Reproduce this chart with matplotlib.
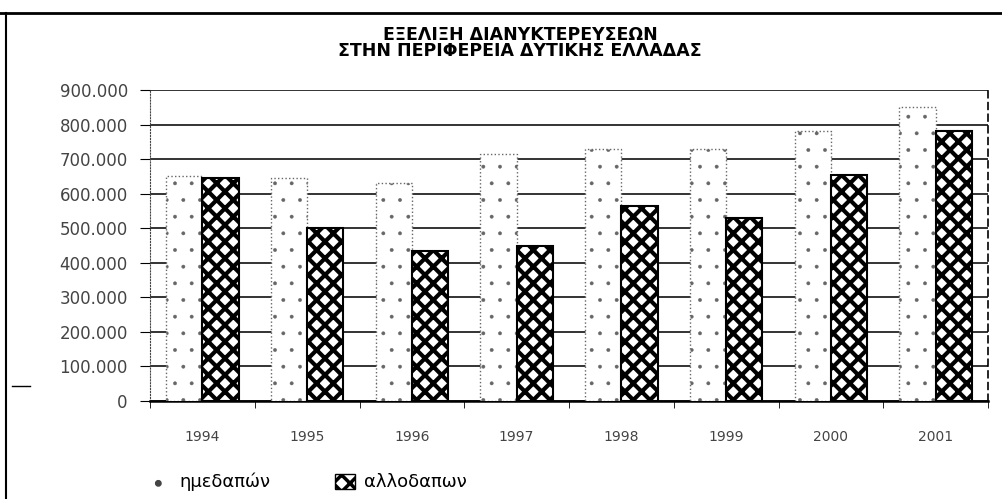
import numpy as np
import matplotlib
matplotlib.use('Agg')
from matplotlib import pyplot as plt
from matplotlib.lines import Line2D
from matplotlib.patches import Patch
from matplotlib.ticker import FuncFormatter, FixedLocator

# δεδομένα (διανυκτερεύσεις ανά έτος)
years = ['1994', '1995', '1996', '1997', '1998', '1999', '2000', '2001']
imedapon = [650000, 645000, 630000, 715000, 730000, 730000, 780000, 850000]
allodapon = [645000, 500000, 435000, 450000, 565000, 530000, 655000, 780000]
y_ticks = [0, 100000, 200000, 300000, 400000, 500000, 600000, 700000, 800000, 900000]
title_lines = ['ΕΞΕΛΙΞΗ ΔΙΑΝΥΚΤΕΡΕΥΣΕΩΝ', 'ΣΤΗΝ ΠΕΡΙΦΕΡΕΙΑ ΔΥΤΙΚΗΣ ΕΛΛΑΔΑΣ']
series_names = ['ημεδαπών', 'αλλοδαπων']

plt.rcParams['font.family'] = ['DejaVu Sans']

W, H = 1002, 499
fig = plt.figure(figsize=(W / 100, H / 100), dpi=100)
ax = fig.add_axes([150 / W, 1 - 401 / H, (988 - 150) / W, (401 - 90) / H])

x = np.arange(len(years))
w = 0.345
# ημεδαποί: λευκή στήλη με αραιές κουκκίδες
with plt.rc_context({'hatch.linewidth': 0.3}):
    ax.bar(x - w / 2, imedapon, w, facecolor='white', edgecolor='#666666',
           linestyle=':', linewidth=1.0, hatch='.', zorder=3)
# αλλοδαποί: πυκνό μοτίβο
with plt.rc_context({'hatch.linewidth': 3.0}):
    ax.bar(x + w / 2, allodapon, w, facecolor='white', edgecolor='black',
           linewidth=1.5, hatch='xx', zorder=3)

ax.set_xlim(-0.5, len(years) - 0.5)
ax.set_ylim(0, 900000)
ax.set_yticks(y_ticks)
ax.yaxis.set_major_formatter(FuncFormatter(lambda v, p: f'{int(v):,}'.replace(',', '.')))
ax.set_axisbelow(True)
ax.yaxis.grid(True, color='#111111', linewidth=1.2)

ax.set_xticks(x)
ax.set_xticklabels(years, fontsize=10, color='#444444')
ax.xaxis.set_minor_locator(FixedLocator(np.arange(-0.5, len(years), 1.0)))
ax.tick_params(axis='x', which='major', length=0, pad=21)
ax.tick_params(axis='x', which='minor', length=5, direction='out', color='black')
ax.tick_params(axis='y', length=7, direction='out', pad=9, labelsize=12, labelcolor='#444444')

ax.spines['top'].set_visible(False)
ax.spines['left'].set_linestyle(':')
ax.spines['left'].set_color('#444444')
ax.spines['right'].set_linestyle((0, (4, 3)))
ax.spines['right'].set_linewidth(1.2)
ax.spines['bottom'].set_linewidth(1.8)

# τίτλος
fig.text(0.519, 1 - 35 / H, title_lines[0], ha='center', va='center', fontsize=12.5, fontweight='bold')
fig.text(0.519, 1 - 51 / H, title_lines[1], ha='center', va='center', fontsize=12.5, fontweight='bold')

# υπόμνημα
with plt.rc_context({'hatch.linewidth': 2.5}):
    h1 = Patch(facecolor='white', edgecolor='#444444', hatch='.', linewidth=0)
    h2 = Patch(facecolor='white', edgecolor='black', hatch='xx', linewidth=1)
    fig.legend([h1, h2], series_names, loc='center left', bbox_to_anchor=(150 / W, 1 - 482 / H),
               ncol=2, frameon=False, fontsize=13, handlelength=1.1, handleheight=0.9,
               handletextpad=0.5, columnspacing=3.6, borderpad=0, borderaxespad=0)

# πλαίσιο σάρωσης
fig.add_artist(Line2D([0, 1], [1 - 13 / H, 1 - 13 / H], transform=fig.transFigure, color='black', linewidth=2))
fig.add_artist(Line2D([6 / W, 6 / W], [0, 1 - 13 / H], transform=fig.transFigure, color='black', linewidth=1.5))
fig.add_artist(Line2D([12 / W, 30 / W], [1 - 386 / H, 1 - 386 / H], transform=fig.transFigure, color='black', linewidth=1))

fig.savefig('out.png', dpi=100)
